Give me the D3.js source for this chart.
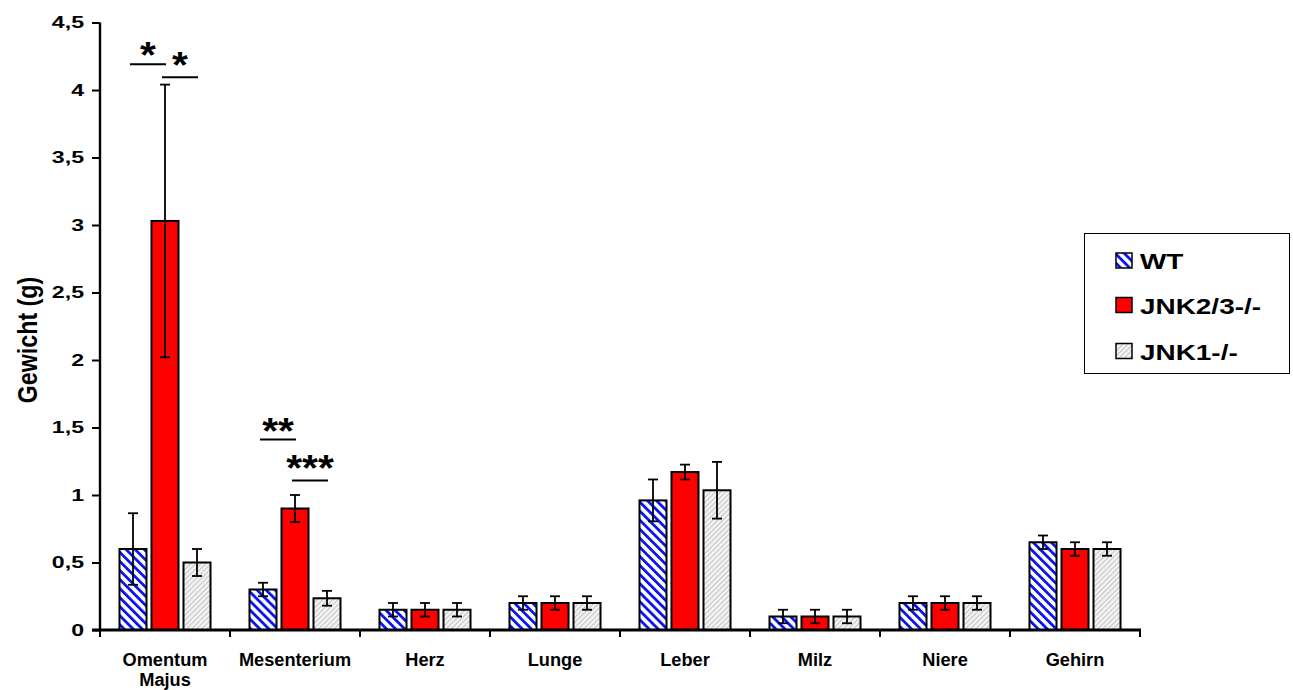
<!DOCTYPE html>
<html>
<head>
<meta charset="utf-8">
<script src="https://cdn.jsdelivr.net/npm/d3@7/dist/d3.min.js"></script>
<style>
  body { margin: 0; background: #fff; }
  text { font-family: "Liberation Sans", Arial, sans-serif; font-weight: bold; }
</style>
</head>
<body>
<svg id="chart" width="1293" height="690"></svg>
<script>
const categories = ["Omentum Majus", "Mesenterium", "Herz", "Lunge", "Leber", "Milz", "Niere", "Gehirn"];
const seriesNames = ["WT", "JNK2/3-/-", "JNK1-/-"];
const wtValues   = [0.60, 0.30, 0.15, 0.20, 0.96, 0.10, 0.20, 0.65];
const wtErrors   = [0.265, 0.05, 0.05, 0.05, 0.155, 0.05, 0.05, 0.05];
const jnk23Values = [3.03, 0.90, 0.15, 0.20, 1.17, 0.10, 0.20, 0.60];
const jnk23Errors = [1.01, 0.10, 0.05, 0.05, 0.055, 0.05, 0.05, 0.05];
const jnk1Values = [0.50, 0.235, 0.15, 0.20, 1.035, 0.10, 0.20, 0.60];
const jnk1Errors = [0.10, 0.055, 0.05, 0.05, 0.21, 0.05, 0.05, 0.05];
const yTicks = [0, 0.5, 1, 1.5, 2, 2.5, 3, 3.5, 4, 4.5];
const yTickLabels = ["0", "0,5", "1", "1,5", "2", "2,5", "3", "3,5", "4", "4,5"];
const significance = [
  { category: "Omentum Majus", from: "WT", to: "JNK2/3-/-", y: 4.19, label: "*" },
  { category: "Omentum Majus", from: "JNK2/3-/-", to: "JNK1-/-", y: 4.095, label: "*" },
  { category: "Mesenterium", from: "WT", to: "JNK2/3-/-", y: 1.411, label: "**" },
  { category: "Mesenterium", from: "JNK2/3-/-", to: "JNK1-/-", y: 1.108, label: "***" }
];

const values = [wtValues, jnk23Values, jnk1Values];
const errors = [wtErrors, jnk23Errors, jnk1Errors];
const fills = ["url(#hatchWT)", "#ff0000", "url(#hatchJNK1)"];

const svg = d3.select("#chart");
const defs = svg.append("defs");

// Blue diagonal hatch "\"
const p1 = defs.append("pattern").attr("id", "hatchWT")
  .attr("patternUnits", "userSpaceOnUse").attr("width", 6.4).attr("height", 6.4)
  .attr("patternTransform", "rotate(-45)");
p1.append("rect").attr("width", 6.4).attr("height", 6.4).attr("fill", "#fff");
p1.append("rect").attr("x", 0).attr("width", 2.8).attr("height", 6.4).attr("fill", "#0a14f0");

// Light gray fine hatch "/"
const p2 = defs.append("pattern").attr("id", "hatchJNK1")
  .attr("patternUnits", "userSpaceOnUse").attr("width", 3.6).attr("height", 3.6)
  .attr("patternTransform", "rotate(45)");
p2.append("rect").attr("width", 3.6).attr("height", 3.6).attr("fill", "#f4f4f4");
p2.append("rect").attr("x", 0).attr("width", 1.1).attr("height", 3.6).attr("fill", "#c4c4c4");

const x0 = d3.scaleBand().domain(categories).range([100, 1140]).padding(0);
const x1 = d3.scaleBand().domain(seriesNames).range([0, x0.bandwidth()])
  .paddingInner(0.156).paddingOuter(0.609);
const y = d3.scaleLinear().domain([0, 4.5]).range([630, 22.5]);

// Bars
seriesNames.forEach((s, si) => {
  const g = svg.append("g");
  categories.forEach((c, ci) => {
    const v = values[si][ci];
    const xb = x0(c) + x1(s);
    g.append("rect")
      .attr("x", xb).attr("y", y(v))
      .attr("width", x1.bandwidth()).attr("height", y(0) - y(v))
      .attr("fill", fills[si]).attr("stroke", "#000").attr("stroke-width", 2);
  });
});

// Error bars
seriesNames.forEach((s, si) => {
  categories.forEach((c, ci) => {
    const v = values[si][ci], e = errors[si][ci];
    const cx = x0(c) + x1(s) + x1.bandwidth() / 2;
    const g = svg.append("g").attr("stroke", "#000").attr("stroke-width", 1.8);
    g.append("line").attr("x1", cx).attr("x2", cx).attr("y1", y(v + e)).attr("y2", y(v - e));
    g.append("line").attr("x1", cx - 5).attr("x2", cx + 5).attr("y1", y(v + e)).attr("y2", y(v + e));
    g.append("line").attr("x1", cx - 5).attr("x2", cx + 5).attr("y1", y(v - e)).attr("y2", y(v - e));
  });
});

// Y axis
const yAxis = d3.axisLeft(y).tickValues(yTicks).tickSize(8).tickPadding(8)
  .tickFormat((d, i) => yTickLabels[i]);
const gy = svg.append("g").attr("transform", "translate(100,0)").call(yAxis);
gy.select(".domain").attr("stroke", "#000").attr("stroke-width", 2.4)
  .attr("d", `M0,${y(4.5)}V${y(0)}`);
gy.selectAll(".tick line").attr("stroke", "#000").attr("stroke-width", 2);
gy.selectAll(".tick text").attr("font-size", 17).attr("fill", "#000")
  .attr("font-family", "Liberation Sans, Arial, sans-serif").attr("font-weight", "bold")
  .attr("x", 0).attr("transform", "translate(-16,0) scale(1.36,1)");

// X axis
const xAxisG = svg.append("g").attr("transform", `translate(0,${y(0)})`);
xAxisG.append("line").attr("x1", 92).attr("x2", 1141).attr("y1", 0).attr("y2", 0)
  .attr("stroke", "#000").attr("stroke-width", 3);
const boundaries = categories.map(c => x0(c)).concat([x0.range()[1]]);
boundaries.forEach(b => {
  xAxisG.append("line").attr("x1", b).attr("x2", b).attr("y1", 0).attr("y2", 7)
    .attr("stroke", "#000").attr("stroke-width", 2);
});
categories.forEach(c => {
  const cx = x0(c) + x0.bandwidth() / 2;
  const parts = c.split(" ");
  parts.forEach((p, i) => {
    xAxisG.append("text").attr("text-anchor", "middle").attr("font-size", 17.5).attr("fill", "#000")
      .attr("transform", `translate(${cx},${36 + i * 20}) scale(1.04,1)`).text(p);
  });
});

// Y title
svg.append("text").attr("transform", "translate(36.5,340) rotate(-90) scale(0.86,1)")
  .attr("text-anchor", "middle").attr("font-size", 27).attr("fill", "#000").text("Gewicht (g)");

// Significance markers
significance.forEach((d, i) => {
  const xa = x0(d.category) + x1(d.from) + x1.bandwidth() / 2 - 3;
  const xb = x0(d.category) + x1(d.to) + x1.bandwidth() / 2 + 1;
  const ly = y(d.y);
  svg.append("line").attr("x1", xa).attr("x2", xb).attr("y1", ly).attr("y2", ly)
    .attr("stroke", "#000").attr("stroke-width", 2);
  const gap = (i % 2 === 0) ? 10 : 13.5;
  svg.append("text").attr("text-anchor", "middle").attr("font-size", 37).attr("fill", "#000")
    .attr("transform", `translate(${(xa + xb) / 2},${ly - gap + 14}) scale(1.1,1)`).text(d.label);
});

// Legend
const lg = svg.append("g");
lg.append("rect").attr("x", 1084.5).attr("y", 233.5).attr("width", 205).attr("height", 140)
  .attr("fill", "#fff").attr("stroke", "#000").attr("stroke-width", 1);
const legendBase = [269, 313.5, 359.5];
seriesNames.forEach((s, i) => {
  lg.append("rect").attr("x", 1116).attr("y", legendBase[i] - 16).attr("width", 16).attr("height", 15)
    .attr("fill", fills[i]).attr("stroke", "#000").attr("stroke-width", 1.5);
  lg.append("text").attr("font-size", 22).attr("fill", "#000")
    .attr("transform", `translate(1140,${legendBase[i]}) scale(1.27,1)`).text(s);
});
</script>
</body>
</html>
